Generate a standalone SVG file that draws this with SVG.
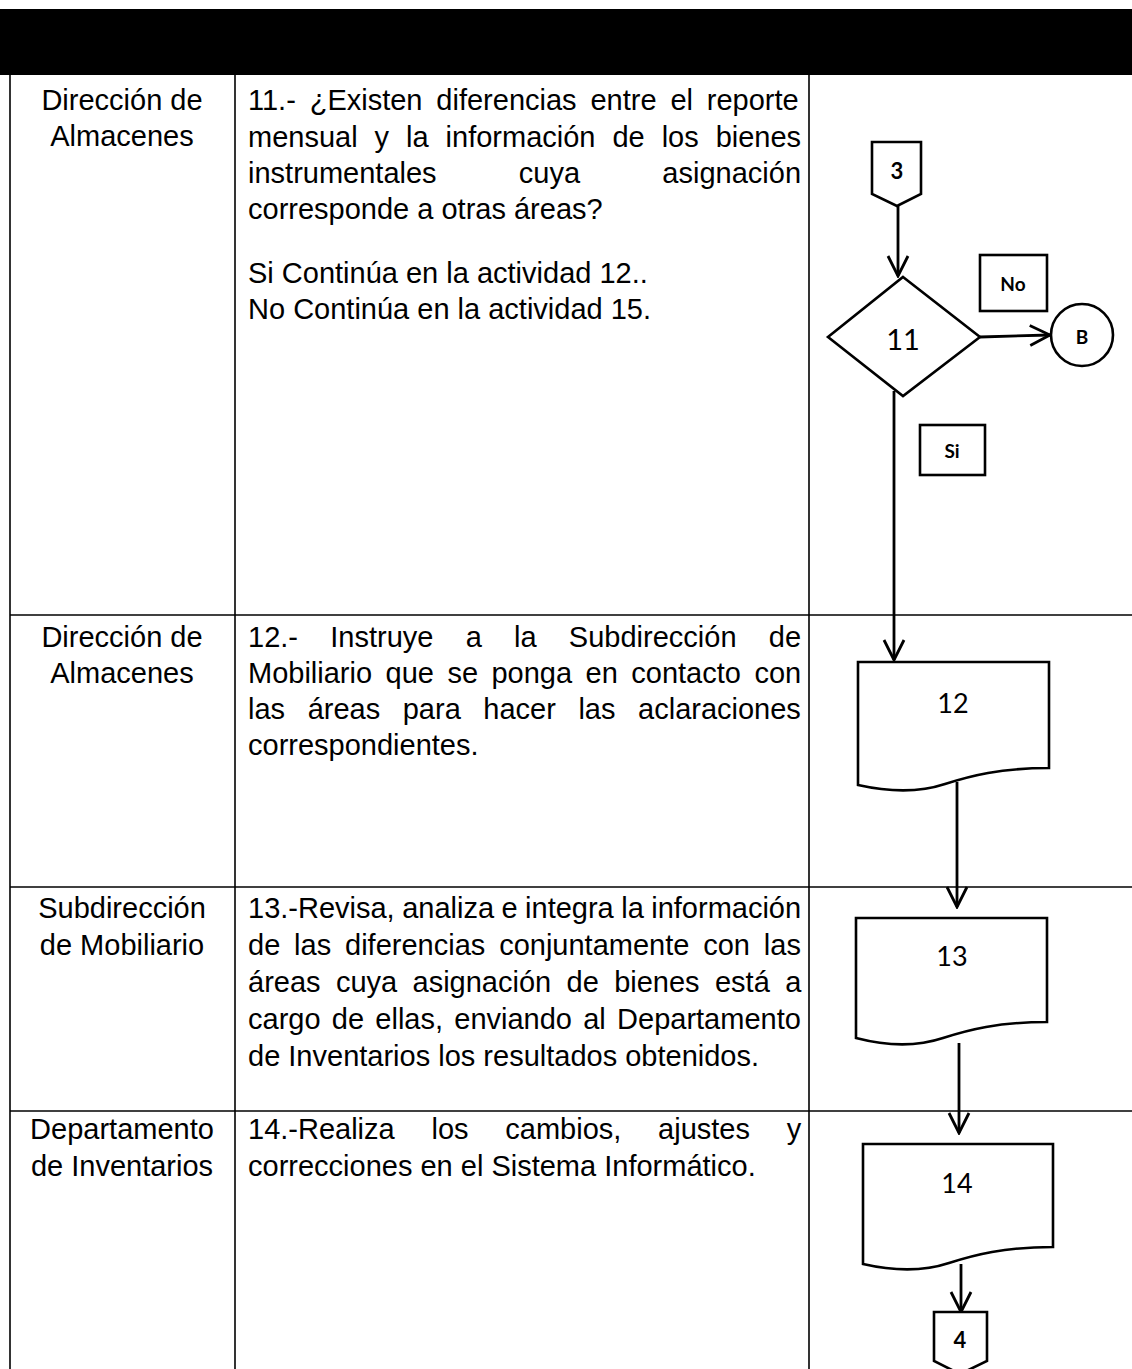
<svg xmlns="http://www.w3.org/2000/svg" width="1132" height="1369" viewBox="0 0 1132 1369">
<style>
.t{font-family:"Liberation Sans",Arial,sans-serif;font-size:29px;fill:#000}
.c{text-anchor:middle}
.grid{stroke:#000;stroke-width:1.6;fill:none}
.shape{fill:#fff;stroke:#000;stroke-width:2.6}
.n{font-family:Lato,"Open Sans",sans-serif;fill:#000;text-anchor:middle;dominant-baseline:central}
.b{font-weight:bold}
.edge{stroke:#000;stroke-width:2.8;fill:none;marker-end:url(#ah)}
</style>
<defs>
<marker id="ah" markerUnits="userSpaceOnUse" viewBox="-22 -12 24 24" markerWidth="24" markerHeight="24" refX="0" refY="0" orient="auto">
<path d="M-20,-10 L0,0 L-20,10" fill="none" stroke="#000" stroke-width="2.8"/>
</marker>
</defs>
<rect width="1132" height="1369" fill="#fff"/>
<rect x="0" y="9" width="1132" height="66" fill="#000"/>
<g id="table" class="grid">
<line x1="10" y1="75" x2="10" y2="1369"/>
<line x1="235" y1="75" x2="235" y2="1369"/>
<line x1="809" y1="75" x2="809" y2="1369"/>
<line x1="10" y1="615" x2="1132" y2="615"/>
<line x1="10" y1="887" x2="1132" y2="887"/>
<line x1="10" y1="1111" x2="1132" y2="1111"/>
</g>
<g id="roles">
<text class="t c" x="122" y="110">Dirección de</text>
<text class="t c" x="122" y="146">Almacenes</text>
<text class="t c" x="122" y="647">Dirección de</text>
<text class="t c" x="122" y="683">Almacenes</text>
<text class="t c" x="122" y="918">Subdirección</text>
<text class="t c" x="122" y="955">de Mobiliario</text>
<text class="t c" x="122" y="1139">Departamento</text>
<text class="t c" x="122" y="1176">de Inventarios</text>
</g>
<g id="activities">
<text class="t" x="248" y="110" word-spacing="5.8">11.- ¿Existen diferencias entre el reporte</text>
<text class="t" x="248" y="147" word-spacing="8.9">mensual y la información de los bienes</text>
<text class="t" x="248" y="183" word-spacing="74.2">instrumentales cuya asignación</text>
<text class="t" x="248" y="219">corresponde a otras áreas?</text>
<text class="t" x="248" y="283">Si Continúa en la actividad 12..</text>
<text class="t" x="248" y="319">No Continúa en la actividad 15.</text>
<text class="t" x="248" y="647" word-spacing="24.2">12.- Instruye a la Subdirección de</text>
<text class="t" x="248" y="683" word-spacing="5.4">Mobiliario que se ponga en contacto con</text>
<text class="t" x="248" y="719" word-spacing="14.5">las áreas para hacer las aclaraciones</text>
<text class="t" x="248" y="755">correspondientes.</text>
<text class="t" x="248" y="918" word-spacing="-0.6">13.-Revisa, analiza e integra la información</text>
<text class="t" x="248" y="955" word-spacing="5.8">de las diferencias conjuntamente con las</text>
<text class="t" x="248" y="992" word-spacing="7.3">áreas cuya asignación de bienes está a</text>
<text class="t" x="248" y="1029" word-spacing="3.2">cargo de ellas, enviando al Departamento</text>
<text class="t" x="248" y="1066">de Inventarios los resultados obtenidos.</text>
<text class="t" x="248" y="1139" word-spacing="28.7">14.-Realiza los cambios, ajustes y</text>
<text class="t" x="248" y="1176">correcciones en el Sistema Informático.</text>
</g>
<g id="connectors">
<line class="edge" x1="898" y1="206" x2="898" y2="276"/>
<line class="edge" x1="980" y1="337" x2="1050" y2="335"/>
<line class="edge" x1="894" y1="391" x2="894" y2="660"/>
<line class="edge" x1="957" y1="782" x2="957" y2="907"/>
<line class="edge" x1="959" y1="1043" x2="959" y2="1133"/>
<line class="edge" x1="961" y1="1264" x2="961" y2="1312"/>
</g>
<g id="node-3">
<path class="shape" d="M872,142 H921 V194 L897,206 L872,194 Z"/>
<text class="n b" x="897" y="170" font-size="22">3</text>
</g>
<g id="node-11">
<path class="shape" d="M903,277 L980,337 L903,396 L828,337 Z"/>
<text class="n" x="903" y="338" font-size="29">11</text>
</g>
<g id="label-no">
<rect class="shape" x="980" y="255" width="67" height="56" stroke-width="2"/>
<text class="n b" x="1013" y="283" font-size="19">No</text>
</g>
<g id="node-B">
<circle class="shape" cx="1082" cy="335" r="31"/>
<text class="n b" x="1082" y="336" font-size="19">B</text>
</g>
<g id="label-si">
<rect class="shape" x="920" y="425" width="65" height="50" stroke-width="2"/>
<text class="n b" x="952" y="450" font-size="19">Si</text>
</g>
<g id="node-12">
<path class="shape" d="M858,662 H1049 V768 C1000,768 970,776 945,784 C915,794 885,791 858,785 Z"/>
<text class="n" x="953" y="702" font-size="27">12</text>
</g>
<g id="node-13">
<path class="shape" d="M856,918 H1047 V1022 C998,1022 968,1030 943,1038 C913,1048 883,1045 856,1038 Z"/>
<text class="n" x="952" y="955" font-size="27">13</text>
</g>
<g id="node-14">
<path class="shape" d="M863,1144 H1053 V1247 C1004,1247 974,1255 949,1263 C919,1273 889,1270 863,1264 Z"/>
<text class="n" x="957" y="1182" font-size="27">14</text>
</g>
<g id="node-4">
<path class="shape" d="M934,1312 H987 V1361 L960,1374 L934,1361 Z"/>
<text class="n b" x="960" y="1339" font-size="22">4</text>
</g>
</svg>
